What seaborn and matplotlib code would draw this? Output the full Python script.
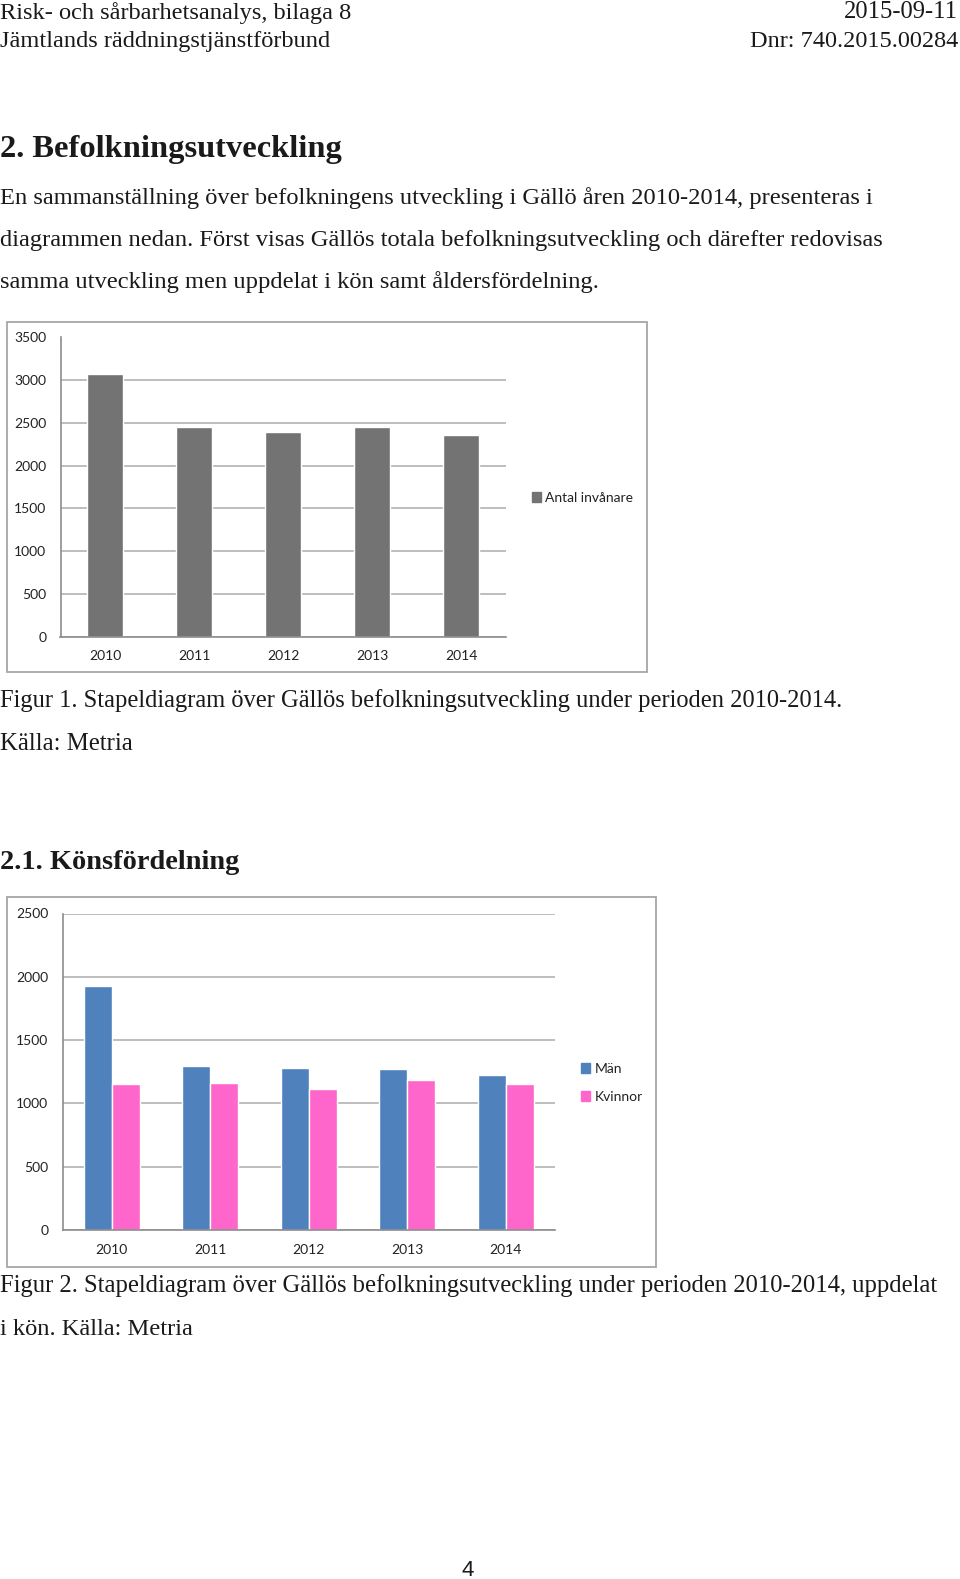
import matplotlib
matplotlib.use("Agg")
import matplotlib.pyplot as plt
import matplotlib.patches as mpatches
import seaborn as sns
import pandas as pd
import numpy as np

# ---------------- data ----------------
years = ["2010", "2011", "2012", "2013", "2014"]
antal_invanare = [3077, 2452, 2389, 2452, 2362]
man = [1931, 1294, 1283, 1272, 1222]
kvinnor = [1151, 1159, 1114, 1185, 1151]
y1_ticks = [0, 500, 1000, 1500, 2000, 2500, 3000, 3500]
y2_ticks = [0, 500, 1000, 1500, 2000, 2500]

W, H = 960, 1579
sns.set_theme(style="white")
plt.rcParams["font.family"] = ["Lato", "DejaVu Sans"]

fig = plt.figure(figsize=(W / 100, H / 100), dpi=100)
fig.patch.set_facecolor("white")
renderer = fig.canvas.get_renderer()

SERIF = ["Liberation Serif", "DejaVu Serif"]
TXT = "#1a1a1a"


def ftext(x, y, s, width, ha="left", weight="normal", family=SERIF, size=16):
    t = fig.text(x / W, 1 - y / H, s, ha=ha, va="baseline", fontsize=size,
                 fontweight=weight, family=family, color=TXT)
    w = t.get_window_extent(renderer).width
    t.set_fontsize(size * width / w)
    return t


# header
ftext(0, 18.5, "Risk- och sårbarhetsanalys, bilaga 8", 351.6)
ftext(958, 18.5, "2015-09-11", 113.8, ha="right")
ftext(0, 46.7, "Jämtlands räddningstjänstförbund", 329.4)
ftext(958, 46.7, "Dnr: 740.2015.00284", 208.5, ha="right")

ftext(0, 156.7, "2. Befolkningsutveckling", 342.5, weight="bold")
ftext(0, 204, "En sammanställning över befolkningens utveckling i Gällö åren 2010-2014, presenteras i", 872.4)
ftext(0, 246, "diagrammen nedan. Först visas Gällös totala befolkningsutveckling och därefter redovisas", 882.4)
ftext(0, 288.3, "samma utveckling men uppdelat i kön samt åldersfördelning.", 598.4)

ftext(0, 707, "Figur 1. Stapeldiagram över Gällös befolkningsutveckling under perioden 2010-2014.", 844)
ftext(0, 750, "Källa: Metria", 133)

ftext(0, 869, "2.1. Könsfördelning", 239.7, weight="bold")

ftext(0, 1292, "Figur 2. Stapeldiagram över Gällös befolkningsutveckling under perioden 2010-2014, uppdelat", 938)
ftext(0, 1335, "i kön. Källa: Metria", 193.4)

fig.text(468 / W, 1 - 1576 / H, "4", ha="center", va="baseline", fontsize=16,
         family=["Liberation Sans", "DejaVu Sans"], color=TXT)


def frame(x0, y0, x1, y1):
    r = mpatches.Rectangle((x0 / W, 1 - y1 / H), (x1 - x0) / W, (y1 - y0) / H,
                           transform=fig.transFigure, fill=False,
                           edgecolor="#a6a6a6", linewidth=1.3)
    fig.add_artist(r)


def axes_px(l, t, r, b):
    return fig.add_axes([l / W, 1 - b / H, (r - l) / W, (b - t) / H])


GRID = "#b3b3b3"
AXC = "#8c8c8c"
LBL = "#222222"


def style_axes(ax, ymax, yticks):
    ax.set_xlim(-0.5, 4.5)
    ax.set_ylim(0, ymax)
    ax.set_yticks(yticks)
    ax.set_yticklabels([str(v) for v in yticks])
    ax.yaxis.grid(True, color=GRID, linewidth=1.2)
    ax.set_axisbelow(True)
    for s in ["top", "right"]:
        ax.spines[s].set_visible(False)
    for s in ["left", "bottom"]:
        ax.spines[s].set_color(AXC)
        ax.spines[s].set_linewidth(1.2)
    ax.set_xticks(range(len(years)))
    ax.set_xticks(np.arange(-0.5, len(years) + 0.5, 1), minor=True)
    ax.tick_params(axis="x", which="major", length=0, pad=10, labelsize=10, labelcolor=LBL)
    ax.tick_params(axis="x", which="minor", length=4, width=1.2, color=AXC, direction="out")
    ax.tick_params(axis="y", which="major", length=3.6, width=1.2, color=AXC, direction="out",
                   pad=6.5, labelsize=10, labelcolor=LBL)
    ax.set_xlabel("")
    ax.set_ylabel("")
    ax.set_facecolor("white")


# -------- chart 1 --------
frame(7, 322, 647, 672)
ax1 = axes_px(60.5, 337.5, 505.5, 636.5)
df1 = pd.DataFrame({"År": years, "Antal invånare": antal_invanare})
sns.barplot(data=df1, x="År", y="Antal invånare", color="#737373", width=0.4,
            saturation=1, ax=ax1)
style_axes(ax1, 3500, y1_ticks)
h1 = [mpatches.Patch(color="#737373")]
ax1.legend(h1, ["Antal invånare"], loc="center left",
           bbox_to_anchor=(519 / W, 1 - 497.5 / H), bbox_transform=fig.transFigure,
           frameon=False, handlelength=0.7, handleheight=0.7, handletextpad=0.3,
           fontsize=10, labelcolor=LBL)

# -------- chart 2 --------
frame(7, 897, 656, 1267)
ax2 = axes_px(62.5, 913.5, 555, 1230)
df2 = pd.DataFrame({
    "År": years * 2,
    "Antal": man + kvinnor,
    "Kön": ["Män"] * len(years) + ["Kvinnor"] * len(years),
})
pal = {"Män": "#4f81bd", "Kvinnor": "#ff66cc"}
sns.barplot(data=df2, x="År", y="Antal", hue="Kön", palette=pal, width=0.572,
            saturation=1, gap=0, ax=ax2, legend=False)
style_axes(ax2, 2500, y2_ticks)
h2 = [mpatches.Patch(color=pal["Män"]), mpatches.Patch(color=pal["Kvinnor"])]
ax2.legend(h2, ["Män", "Kvinnor"], loc="center left",
           bbox_to_anchor=(568 / W, 1 - 1083 / H), bbox_transform=fig.transFigure,
           frameon=False, handlelength=0.7, handleheight=0.7, handletextpad=0.3,
           labelspacing=1.15, fontsize=10, labelcolor=LBL)

fig.savefig("out.png", dpi=100, facecolor="white")
